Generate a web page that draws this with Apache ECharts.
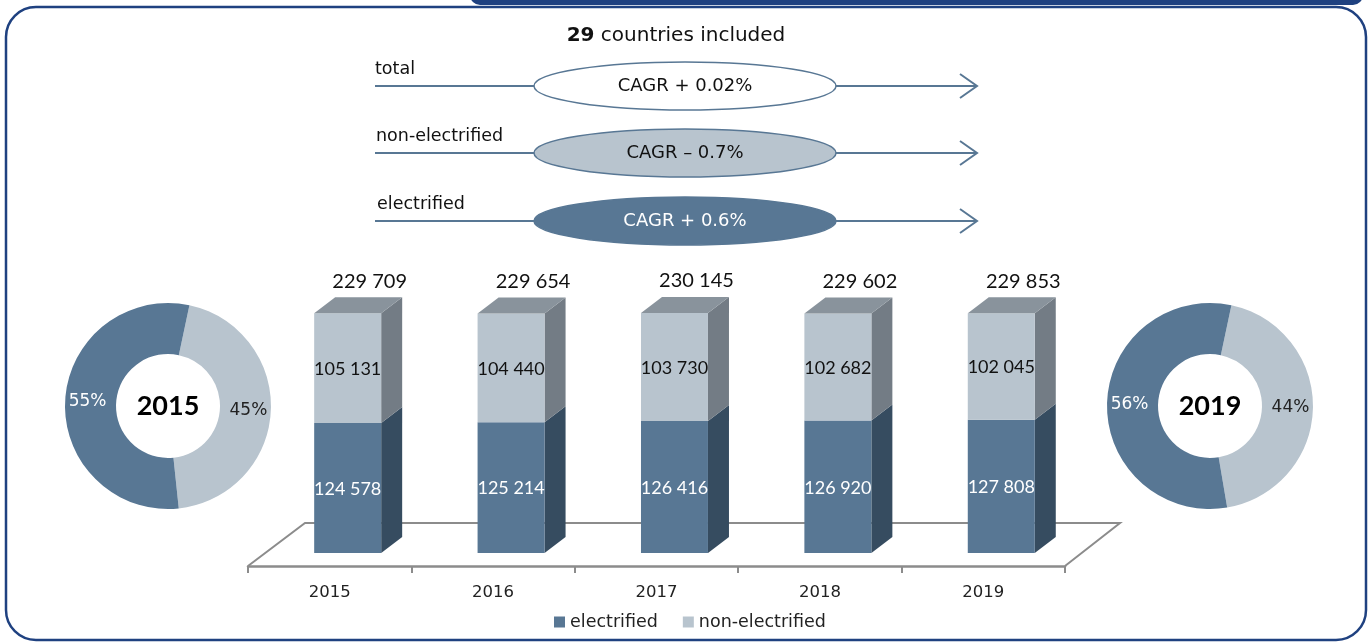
<!DOCTYPE html>
<html>
<head>
<meta charset="utf-8">
<script src="https://cdn.jsdelivr.net/npm/echarts@6/dist/echarts.min.js"></script>
<style>
  html, body { margin: 0; padding: 0; background: #fff; }
  #main { width: 1370px; height: 642px; }
</style>
</head>
<body>
<div id="main"></div>
<script>
// data
const years = ['2015', '2016', '2017', '2018', '2019'];
const electrified = [124578, 125214, 126416, 126920, 127808];
const nonElectrified = [105131, 104440, 103730, 102682, 102045];
const totals = [229709, 229654, 230145, 229602, 229853];

const share2015 = [45, 55];   // non-electrified, electrified (%)
const share2019 = [44, 56];

const cagrNames = ['total', 'non-electrified', 'electrified'];
const cagrTexts = ['CAGR + 0.02%', 'CAGR \u2013 0.7%', 'CAGR + 0.6%'];

const DARK = '#587794', DARK_SIDE = '#364c60';
const LIGHT = '#b8c4ce', LIGHT_SIDE = '#737c85', LIGHT_TOP = '#89939c';
const NUM_FONT = 'Lato, "DejaVu Sans", sans-serif';   // numbers
const TXT_FONT = '"DejaVu Sans", sans-serif';         // words (wide, like the original)

const fmt = v => String(v).replace(/\B(?=(\d{3})+(?!\d))/g, ' ');

const chart = echarts.init(document.getElementById('main'));

// 3d-ish bar segment: front face, side face, top face for the upper one
function barRenderer(front, side, top, txtColor, withTotal) {
    return function (params, api) {
        const i = api.value(0);
        const p0 = api.coord([i, api.value(1)]);
        const p1 = api.coord([i, api.value(2)]);
        const band = api.size([1, 0])[0];
        const w = band * 0.41;
        const x = p0[0] + band * 0.11 - w / 2;
        const dx = 21, dy = 16;
        const children = [
            {
                type: 'polygon',
                shape: { points: [[x + w, p0[1]], [x + w + dx, p0[1] - dy], [x + w + dx, p1[1] - dy], [x + w, p1[1]]] },
                style: { fill: side }
            },
            {
                type: 'rect',
                shape: { x: x, y: p1[1], width: w, height: p0[1] - p1[1] },
                style: { fill: front }
            },
            {
                type: 'text',
                style: {
                    text: fmt(api.value(3)), x: x + w / 2, y: (p0[1] + p1[1]) / 2 + 1,
                    align: 'center', verticalAlign: 'middle',
                    fill: txtColor, font: '18px ' + NUM_FONT
                }
            }
        ];
        if (top) {
            children.push({
                type: 'polygon',
                shape: { points: [[x, p1[1]], [x + dx, p1[1] - dy], [x + w + dx, p1[1] - dy], [x + w, p1[1]]] },
                style: { fill: top }
            });
        }
        if (withTotal) {
            children.push({
                type: 'text',
                style: {
                    text: fmt(totals[i]), x: x + w / 2 + 22, y: p1[1] - 32,
                    align: 'center', verticalAlign: 'middle',
                    fill: '#111', font: '20px ' + NUM_FONT
                }
            });
        }
        return { type: 'group', children: children };
    };
}

// floor of the fake 3d plot (back edge and sides; front edge is the x axis line)
function floorRenderer(params, api) {
    const cs = params.coordSys;
    const front = cs.y + cs.height + 13;
    const back = front - 43;
    const l = cs.x, r = cs.x + cs.width;
    return {
        type: 'polyline',
        shape: { points: [[l, front], [l + 57, back], [r + 55, back], [r, front]] },
        style: { stroke: '#8c8c8c', lineWidth: 2, fill: null }
    };
}

const elecData = years.map((y, i) => [i, 0, electrified[i], electrified[i]]);
const nonData = years.map((y, i) => [i, electrified[i], electrified[i] + nonElectrified[i], nonElectrified[i]]);

function donut(center, shares) {
    return {
        type: 'pie',
        center: center,
        radius: [52, 103],
        startAngle: 78,
        silent: true,
        label: { position: 'inside', formatter: '{c}%', fontSize: 17, fontFamily: TXT_FONT },
        labelLine: { show: false },
        emphasis: { disabled: true },
        data: [
            { value: shares[0], name: 'non-electrified', itemStyle: { color: LIGHT }, label: { color: '#222' } },
            { value: shares[1], name: 'electrified', itemStyle: { color: DARK }, label: { color: '#fff' } }
        ]
    };
}

// decoration: frame, CAGR arrows
const rowY = [86, 153, 221];
const ellipseFill = ['#fff', LIGHT, DARK];
const ellipseText = ['#111', '#111', '#fff'];
const graphics = [
    { type: 'rect', shape: { x: 470, y: -20, width: 893, height: 25, r: 10 }, style: { fill: '#1f4180' } },
    { type: 'rect', shape: { x: 6, y: 7, width: 1360, height: 633, r: 30 }, style: { fill: null, stroke: '#1f4180', lineWidth: 2.5 } },
    {
        type: 'text', x: 676, y: 36,
        style: {
            text: '{b|29} countries included', align: 'center', verticalAlign: 'middle',
            font: '20px ' + TXT_FONT, fill: '#111',
            rich: { b: { fontWeight: 'bold', fontSize: 20, fontFamily: TXT_FONT } }
        }
    },
    { type: 'text', x: 168, y: 406, style: { text: years[0], align: 'center', verticalAlign: 'middle', font: 'bold 27px ' + NUM_FONT, fill: '#000' } },
    { type: 'text', x: 1210, y: 406, style: { text: years[years.length - 1], align: 'center', verticalAlign: 'middle', font: 'bold 27px ' + NUM_FONT, fill: '#000' } }
];
cagrNames.forEach((name, k) => {
    const cy = rowY[k];
    graphics.push(
        { type: 'text', x: 375 + k, y: cy - 17, style: { text: name, align: 'left', verticalAlign: 'middle', font: '17.5px ' + TXT_FONT, fill: '#111' } },
        { type: 'line', shape: { x1: 375, y1: cy, x2: 977, y2: cy }, style: { stroke: DARK, lineWidth: 2 } },
        { type: 'polyline', shape: { points: [[960, cy - 12], [977, cy], [960, cy + 12]] }, style: { stroke: DARK, lineWidth: 2, fill: null } },
        { type: 'ellipse', shape: { cx: 685, cy: cy, rx: 151, ry: 24 }, style: { fill: ellipseFill[k], stroke: DARK, lineWidth: 1.5 } },
        { type: 'text', x: 685, y: cy, style: { text: cagrTexts[k], align: 'center', verticalAlign: 'middle', font: '18px ' + TXT_FONT, fill: ellipseText[k] } }
    );
});

chart.setOption({
    animation: false,
    textStyle: { fontFamily: TXT_FONT },
    grid: { left: 248, right: 305, top: 240, bottom: 89 },
    legend: {
        data: ['electrified', 'non-electrified'],
        left: 554, top: 613, padding: 0,
        icon: 'rect', itemWidth: 11, itemHeight: 11, itemGap: 25,
        textStyle: { fontSize: 17.5, color: '#222', fontFamily: TXT_FONT },
        selectedMode: false
    },
    xAxis: {
        type: 'category',
        data: years,
        offset: 13,
        axisLine: { onZero: false, lineStyle: { color: '#8c8c8c', width: 2.5 } },
        axisTick: { show: true, length: 7, lineStyle: { color: '#8c8c8c', width: 2 } },
        axisLabel: { fontSize: 16.5, color: '#222', margin: 18, fontFamily: TXT_FONT }
    },
    yAxis: { type: 'value', min: 0, max: 300000, show: false },
    series: [
        { type: 'custom', name: 'floor', renderItem: floorRenderer, data: [[0]], silent: true, z: 1 },
        {
            type: 'custom', name: 'electrified', itemStyle: { color: DARK },
            renderItem: barRenderer(DARK, DARK_SIDE, null, '#fff', false),
            encode: { x: 0, y: [1, 2] }, data: elecData, z: 2
        },
        {
            type: 'custom', name: 'non-electrified', itemStyle: { color: LIGHT },
            renderItem: barRenderer(LIGHT, LIGHT_SIDE, LIGHT_TOP, '#111', true),
            encode: { x: 0, y: [1, 2] }, data: nonData, z: 2
        },
        donut([168, 406], share2015),
        donut([1210, 406], share2019)
    ],
    graphic: graphics
});
</script>
</body>
</html>
